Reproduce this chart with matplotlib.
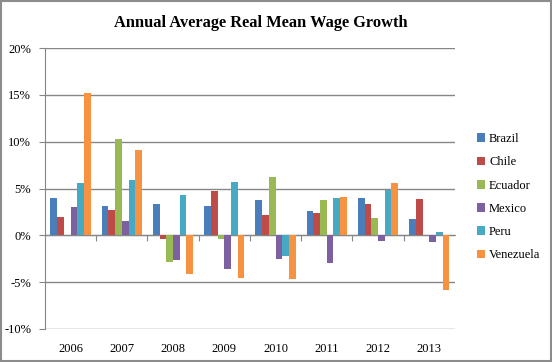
import matplotlib.pyplot as plt
import numpy as np
from matplotlib.patches import Rectangle

years = ['2006', '2007', '2008', '2009', '2010', '2011', '2012', '2013']
countries = ['Brazil', 'Chile', 'Ecuador', 'Mexico', 'Peru', 'Venezuela']
colors = ['#4A7EBB', '#BE4B48', '#98B954', '#7D60A0', '#46AAC5', '#F69240']

brazil = [4.0, 3.1, 3.3, 3.1, 3.8, 2.6, 4.0, 1.7]
chile = [2.0, 2.7, -0.4, 4.7, 2.2, 2.4, 3.3, 3.9]
ecuador = [0.0, 10.3, -2.8, -0.4, 6.2, 3.8, 1.9, 0.0]
mexico = [3.0, 1.5, -2.6, -3.6, -2.5, -2.9, -0.6, -0.7]
peru = [5.6, 5.9, 4.3, 5.7, -2.2, 4.0, 4.9, 0.4]
venezuela = [15.2, 9.1, -4.1, -4.6, -4.7, 4.1, 5.6, -5.8]
series = [brazil, chile, ecuador, mexico, peru, venezuela]

plt.rcParams['font.family'] = 'Liberation Serif'
grid_col = '#868686'

fig = plt.figure(figsize=(5.52, 3.62), dpi=100)
ax = fig.add_axes([0.0815, 0.0912, 0.7425, 0.7758])

x = np.arange(len(years))
w = 0.131
for i, (name, vals) in enumerate(zip(countries, series)):
    ax.bar(x + (i - 2.5) * w, vals, w, color=colors[i], label=name, zorder=3)

ax.set_xlim(-0.5, len(years) - 0.5)
ax.set_ylim(-10, 20)
ax.set_yticks(np.arange(-10, 21, 5))
ax.set_yticklabels([f'{v}%' for v in range(-10, 21, 5)])
ax.yaxis.grid(True, color=grid_col, lw=1)
ax.set_axisbelow(True)
for s in ['top', 'right', 'bottom']:
    ax.spines[s].set_visible(False)
ax.spines['left'].set_color(grid_col)
ax.tick_params(axis='y', colors=grid_col, length=4, labelsize=9, labelcolor='black', pad=6)

ax.set_xticks(x)
ax.set_xticklabels(years)
ax.tick_params(axis='x', length=0, labelsize=9, pad=10)

# zero line with group separator ticks
zero = ax.secondary_xaxis(10 / 30)
zero.set_xticks(np.arange(0.5, len(years) - 0.5, 1))
zero.set_xticklabels([])
zero.tick_params(axis='x', direction='out', length=4, color=grid_col)
zero.spines['bottom'].set_color(grid_col)

fig.text(0.473, 0.937, 'Annual Average Real Mean Wage Growth', ha='center', va='center',
         fontsize=11.8, fontweight='bold')

ax.legend(loc='center left', bbox_to_anchor=(0.843, 0.455), bbox_transform=fig.transFigure,
          frameon=False, fontsize=9, handlelength=0.7, handleheight=0.7,
          handletextpad=0.3, labelspacing=0.9)

fig.patches.append(Rectangle((0.002, 0.003), 0.996, 0.994, transform=fig.transFigure,
                             fill=False, edgecolor='#8C8C8C', lw=1.5))

fig.savefig('out.png', dpi=100)
